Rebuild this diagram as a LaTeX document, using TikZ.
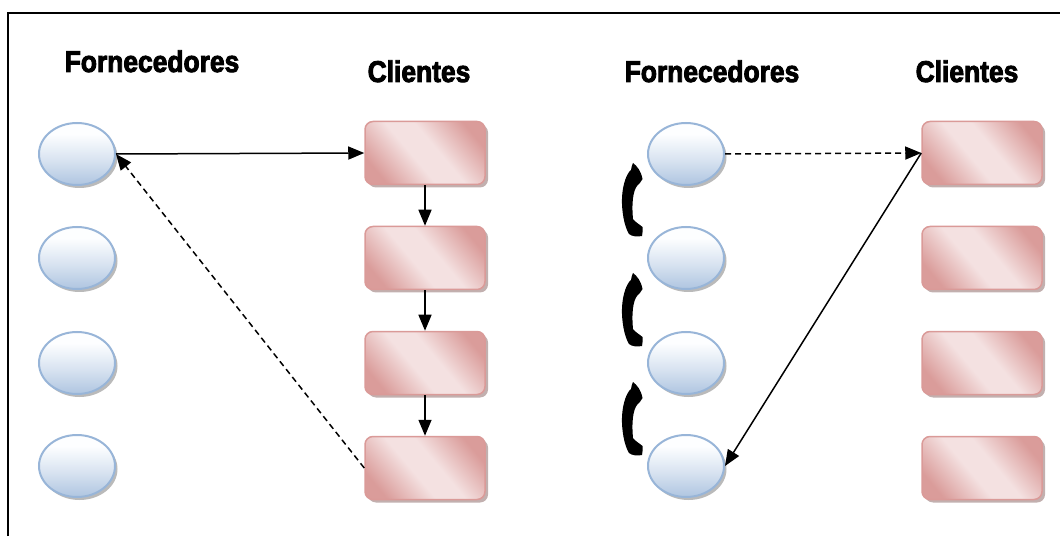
\documentclass[tikz,border=0pt]{standalone}
\usepackage{fontspec}
\newfontfamily\titlefont[FakeStretch=0.88, FakeBold=3]{Liberation Sans Bold}
\usetikzlibrary{shapes.geometric,arrows.meta,shadows}

\definecolor{bluefill}{HTML}{B3C8E2}
\definecolor{bluetop}{HTML}{FDFEFF}
\definecolor{blueline}{HTML}{98B5D8}
\definecolor{pinkdark}{HTML}{DA9C9A}
\definecolor{pinklight}{HTML}{F4E1E1}
\definecolor{pinkline}{HTML}{DA9A98}

% diagonal band shading for the client boxes
\pgfdeclarehorizontalshading{pinkband}{100bp}{%
  color(0bp)=(pinkdark); color(24bp)=(pinkdark); color(44bp)=(pinklight);
  color(56bp)=(pinklight); color(76bp)=(pinkdark); color(100bp)=(pinkdark)}
% vertical shading for the supplier discs (0bp is the bottom)
\pgfdeclareverticalshading{bluedisc}{100bp}{%
  color(0bp)=(bluefill); color(27bp)=(bluefill); color(45bp)=(bluefill!50!bluetop);
  color(66bp)=(bluetop); color(100bp)=(bluetop)}

\tikzset{
  supplier/.style={ellipse, minimum width=76pt, minimum height=62pt, inner sep=0pt,
    draw=blueline, line width=2pt, shading=bluedisc,
    drop shadow={shadow xshift=2.5pt, shadow yshift=-3pt, fill=black!45, opacity=0.6}},
  client/.style={rectangle, rounded corners=8pt, minimum width=120pt, minimum height=63pt,
    inner sep=0pt, draw=pinkline, line width=1.5pt, shading=pinkband, shading angle=40,
    drop shadow={shadow xshift=3pt, shadow yshift=-3pt, fill=pinkdark!60!black!70, opacity=0.7}},
  title/.style={anchor=base, font=\titlefont\fontsize{30}{30}\selectfont},
  flow/.style={line width=1.5pt, -{Triangle[length=16pt,width=13pt]}},
  reply/.style={flow, dash pattern=on 6pt off 4pt},
  handset/.pic={
    \fill[black] (1,-37) .. controls (5,-34) and (9,-29) .. (10.5,-21)
      .. controls (9,-18) and (7,-16) .. (5,-14)
      .. controls (1,-9) and (-0.5,4) .. (1,19)
      .. controls (3,22) and (7,24) .. (10.5,27)
      .. controls (11,30) and (10.5,33) .. (10,36)
      .. controls (5,37) and (0,36.5) .. (-3,34)
      .. controls (-8,26) and (-10.5,10) .. (-10,-2)
      .. controls (-9.5,-16) and (-5,-27) .. (-1,-30)
      .. controls (-0.5,-33) and (0,-35) .. (1,-37) -- cycle;
  }
}

\begin{document}
\begin{tikzpicture}[x=1pt, y=-1pt]
  \useasboundingbox (0,0) rectangle (1060,537);

  % frame
  \draw[line width=2.5pt] (8,536) -- (8,13) -- (1062,13);

  % titles
  \node[title] (t1) at (152,72) {Fornecedores};
  \node[title] (t2) at (419,82) {Clientes};
  \node[title] (t3) at (712,82) {Fornecedores};
  \node[title] (t4) at (967,82) {Clientes};

  % left: suppliers and clients
  \node[supplier] (a1) at (77,154) {};
  \node[supplier] (a2) at (77,258) {};
  \node[supplier] (a3) at (77,363) {};
  \node[supplier] (a4) at (77,466) {};
  \node[client] (b1) at (425,153) {};
  \node[client] (b2) at (425,258) {};
  \node[client] (b3) at (425,363) {};
  \node[client] (b4) at (425,468) {};

  % right: suppliers and clients
  \node[supplier] (c1) at (686,154) {};
  \node[supplier] (c2) at (686,258) {};
  \node[supplier] (c3) at (686,363) {};
  \node[supplier] (c4) at (686,466) {};
  \node[client] (d1) at (982,153) {};
  \node[client] (d2) at (982,258) {};
  \node[client] (d3) at (982,363) {};
  \node[client] (d4) at (982,468) {};

  % left connectors
  \draw[flow] (a1.east) -- (b1.west);
  \draw[flow] (b1.south) -- (b2.north);
  \draw[flow] (b2.south) -- (b3.north);
  \draw[flow] (b3.south) -- (b4.north);
  \draw[reply] (b4.west) -- (a1.east);

  % right connectors
  \draw[reply] (c1.east) -- (d1.west);
  \draw[flow] (d1.west) -- (c4.east);

  % telephone handsets between suppliers
  \pic (p1) at (632,200) {handset};
  \pic (p2) at (632,310) {handset};
  \pic (p3) at (632,419) {handset};
\end{tikzpicture}
\end{document}
